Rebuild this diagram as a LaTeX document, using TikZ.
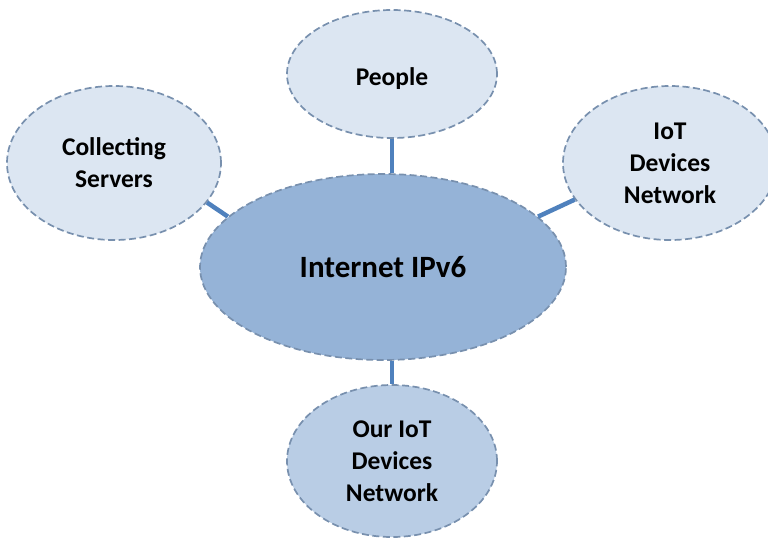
\documentclass[tikz,border=0pt]{standalone}
\usepackage{fontspec}
\setmainfont{Carlito}
\usepackage{tikz}
\usetikzlibrary{shapes, positioning}
\definecolor{hubfill}{HTML}{95B3D7}
\definecolor{leaffill}{HTML}{DCE6F2}
\definecolor{ownfill}{HTML}{B9CDE5}
\definecolor{rim}{HTML}{7890AE}
\definecolor{link}{HTML}{4F81BD}

\begin{document}
\begin{tikzpicture}[x=1pt, y=-1pt,
    main/.style = {draw=rim, ellipse, dashed, dash pattern=on 7pt off 3.5pt, line width=1.7pt,
                   inner sep=0pt, align=center, font=\bfseries\fontsize{25.5}{32}\selectfont},
    leaf/.style = {main, fill=leaffill},
    wire/.style = {draw=link, line width=4.5pt}]
    \useasboundingbox (0,0) rectangle (768,539);

    \node[main, fill=hubfill, minimum width=366pt, minimum height=186pt,
          font=\bfseries\fontsize{31}{36}\selectfont] (ipv6) at (383,267) {Internet IPv6};

    \node[leaf, minimum width=210pt, minimum height=128pt, text height=28pt, text depth=6pt] (people) at (392,74) {People};
    \node[leaf, minimum width=214pt, minimum height=154pt] (servers) at (114,163) {Collecting\\Servers};
    \node[leaf, minimum width=214pt, minimum height=154pt] (iot) at (670,163) {IoT\\Devices\\Network};
    \node[main, fill=ownfill, minimum width=210pt, minimum height=152pt] (ouriot) at (392,461) {Our IoT\\Devices\\Network};

    \draw[wire] (people.south) -- (people.south |- ipv6.north);
    \draw[wire] (ouriot.north |- ipv6.south) -- (ouriot.north);
    \draw[wire] (servers.-23) -- (ipv6.162);
    \draw[wire] (iot.201) -- (ipv6.18);
\end{tikzpicture}
\end{document}
